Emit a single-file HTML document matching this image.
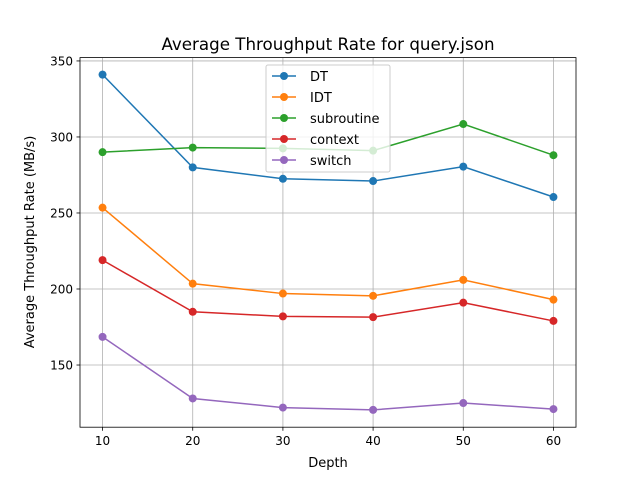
<!DOCTYPE html>
<html><head><meta charset="utf-8"><style>
body{margin:0;background:#fff;}
svg text{font-family:"DejaVu Sans","Liberation Sans",sans-serif;fill:#000;}
</style></head><body>
<svg id="chart" width="640" height="480" xmlns="http://www.w3.org/2000/svg">
<rect width="640" height="480" fill="#fff"/>
<text x="328" y="50" font-size="16.7" text-anchor="middle">Average Throughput Rate for query.json</text>
<g id="grid"></g>
<g id="marks"></g>
<rect x="80" y="57.6" width="496" height="369.6" fill="none" stroke="#000" stroke-width="0.8"/>
<g id="axes"></g>
<text x="328" y="467" font-size="13" text-anchor="middle">Depth</text>
<text transform="translate(34,242) rotate(-90)" font-size="13" text-anchor="middle">Average Throughput Rate (MB/s)</text>
<g id="legend"></g>
</svg>
<script>
const depths=[10,20,30,40,50,60];
const seriesNames=["DT","IDT","subroutine","context","switch"];
const colors=["#1f77b4","#ff7f0e","#2ca02c","#d62728","#9467bd"];
const dtValues=[341,280,272.5,271,280.5,260.5];
const idtValues=[253.5,203.5,197,195.5,206,193];
const subroutineValues=[290,293,292.5,291,308.5,288];
const contextValues=[219,185,182,181.5,191,179];
const switchValues=[168.5,128,122,120.5,125,121];
const xTicks=[10,20,30,40,50,60];
const yTicks=[150,200,250,300,350];
const allSeries=[dtValues,idtValues,subroutineValues,contextValues,switchValues];
const L=80,R=576,T=57.6,B=427.2;
const xMin=7.5,xMax=62.5,yMin=109.1,yMax=352.2;
const xs=v=>L+(v-xMin)/(xMax-xMin)*(R-L);
const ys=v=>B-(v-yMin)/(yMax-yMin)*(B-T);
const NS="http://www.w3.org/2000/svg";
function mk(tag,attrs,parent){const e=document.createElementNS(NS,tag);for(const k in attrs)e.setAttribute(k,attrs[k]);parent.appendChild(e);return e;}
const grid=document.getElementById('grid'),axes=document.getElementById('axes'),marks=document.getElementById('marks'),legend=document.getElementById('legend');
xTicks.forEach(t=>{const x=xs(t);
 const g=mk('line',{x1:x,x2:x,y1:T,y2:B,stroke:'#b0b0b0','stroke-width':0.8},grid);
 
 const tk=mk('line',{x1:x,x2:x,y1:B,y2:B+3.5,stroke:'#000','stroke-width':0.8},axes);
 
 const tx=mk('text',{x:x,y:B+18,'font-size':12,'text-anchor':'middle'},axes);tx.textContent=t;
 });
yTicks.forEach(t=>{const y=ys(t);
 const g=mk('line',{x1:L,x2:R,y1:y,y2:y,stroke:'#b0b0b0','stroke-width':0.8},grid);
 
 const tk=mk('line',{x1:L-3.5,x2:L,y1:y,y2:y,stroke:'#000','stroke-width':0.8},axes);
 
 const tx=mk('text',{x:L-7,y:y+4.5,'font-size':12,'text-anchor':'end'},axes);tx.textContent=t;
 });
allSeries.forEach((vals,i)=>{
 const pts=vals.map((v,j)=>xs(depths[j])+','+ys(v)).join(' ');
 const pl=mk('polyline',{points:pts,fill:'none',stroke:colors[i],'stroke-width':1.5},marks);
 
 vals.forEach((v,j)=>{const c=mk('circle',{cx:xs(depths[j]),cy:ys(v),r:4,fill:colors[i]},marks);
  });
});
const lb=mk('rect',{x:266,y:65,width:124,height:107,fill:'#fff','fill-opacity':0.8,stroke:'#ccc',rx:2},legend);

seriesNames.forEach((n,i)=>{const y=76+i*21;
 const g=mk('g',{},legend);
 
 mk('line',{x1:272,x2:296,y1:y,y2:y,stroke:colors[i],'stroke-width':1.5},g);
 mk('circle',{cx:284,cy:y,r:4,fill:colors[i]},g);
 const t=mk('text',{x:310,y:y+5,'font-size':13},g);t.textContent=n;});
</script>
</body></html>
